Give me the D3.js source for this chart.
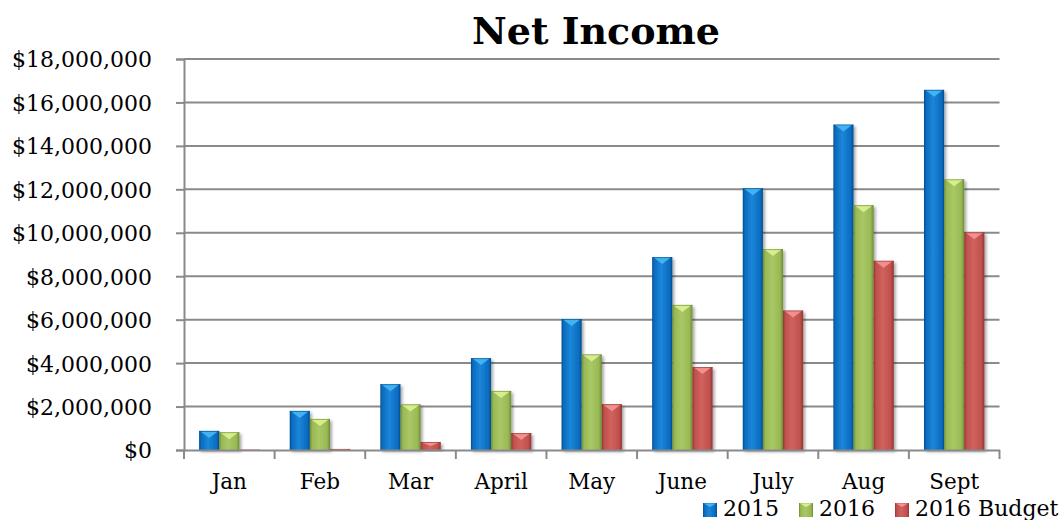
<!DOCTYPE html>
<html>
<head>
<meta charset="utf-8">
<script src="https://cdn.jsdelivr.net/npm/d3@7"></script>
<style>
  html, body { margin: 0; padding: 0; background: #fff; }
  svg { display: block; }
  text { font-family: "DejaVu Serif", serif; fill: #000; }
</style>
</head>
<body>
<svg id="chart" width="1063" height="520"></svg>
<script>
// Monthly net income, cumulative
const months = ["Jan", "Feb", "Mar", "April", "May", "June", "July", "Aug", "Sept"];
const seriesNames = ["2015", "2016", "2016 Budget"];
const income2015 = [880000, 1800000, 3030000, 4230000, 6030000, 8880000, 12050000, 14980000, 16580000];
const income2016 = [820000, 1430000, 2100000, 2720000, 4400000, 6680000, 9250000, 11270000, 12460000];
const budget2016 = [20000, 50000, 370000, 780000, 2110000, 3820000, 6420000, 8710000, 10020000];
const yTicks = [0, 2000000, 4000000, 6000000, 8000000, 10000000, 12000000, 14000000, 16000000, 18000000];

const seriesValues = [income2015, income2016, budget2016];
const palette = [
  { base: "#0a6dc2", dark: "#04508f", light: "#1c86d8", cap: "#45b5f2" },
  { base: "#98b954", dark: "#6f8c36", light: "#aac866", cap: "#d8f08e" },
  { base: "#c0504d", dark: "#933532", light: "#d0625e", cap: "#f39290" }
];

const svg = d3.select("#chart");
const x0 = 184, x1 = 999.5, yTop = 59, yBase = 450;

const x = d3.scaleBand().domain(months).range([x0, x1]).paddingInner(0).paddingOuter(0);
const xs = d3.scaleBand().domain(seriesNames).range([0, x.bandwidth()]).paddingInner(0).paddingOuter(0.75);
const y = d3.scaleLinear().domain([0, 18000000]).range([yBase, yTop]);

// gradients and shadow
const defs = svg.append("defs");
palette.forEach((p, i) => {
  const g = defs.append("linearGradient").attr("id", "bar" + i)
    .attr("x1", "0%").attr("x2", "100%").attr("y1", "0%").attr("y2", "0%");
  g.append("stop").attr("offset", "0%").attr("stop-color", p.dark);
  g.append("stop").attr("offset", "12%").attr("stop-color", p.base);
  g.append("stop").attr("offset", "45%").attr("stop-color", p.light);
  g.append("stop").attr("offset", "85%").attr("stop-color", p.base);
  g.append("stop").attr("offset", "100%").attr("stop-color", p.dark);
});
const f = defs.append("filter").attr("id", "shadow").attr("x", "-30%").attr("y", "-10%").attr("width", "170%").attr("height", "130%");
f.append("feGaussianBlur").attr("in", "SourceAlpha").attr("stdDeviation", 1.8).attr("result", "b");
f.append("feOffset").attr("in", "b").attr("dx", 2).attr("dy", 2).attr("result", "o");
f.append("feComponentTransfer").attr("in", "o").attr("result", "s")
  .append("feFuncA").attr("type", "linear").attr("slope", 0.35);
const fm = f.append("feMerge");
fm.append("feMergeNode").attr("in", "s");
fm.append("feMergeNode").attr("in", "SourceGraphic");

// gridlines
svg.append("g").selectAll("line").data(yTicks.slice(1)).join("line")
  .attr("x1", x0).attr("x2", x1)
  .attr("y1", d => y(d)).attr("y2", d => y(d))
  .attr("stroke", "#8a8a8a").attr("stroke-width", 2);

// y axis
const yAxis = svg.append("g").attr("transform", `translate(${x0},0)`)
  .call(d3.axisLeft(y).tickValues(yTicks).tickSize(8).tickPadding(24)
    .tickFormat(d => "$" + d3.format(",")(d)));
yAxis.select(".domain").attr("stroke", "#8a8a8a").attr("stroke-width", 2);
yAxis.selectAll(".tick line").attr("stroke", "#8a8a8a").attr("stroke-width", 2);
yAxis.selectAll(".tick text").attr("font-size", 22).attr("font-family", "DejaVu Serif").attr("dy", "0.36em");

// bars
const groups = svg.append("g").selectAll("g").data(months).join("g")
  .attr("transform", d => `translate(${x(d)},0)`);

groups.each(function (m, mi) {
  const g = d3.select(this);
  seriesNames.forEach((s, si) => {
    const v = seriesValues[si][mi];
    const bx = xs(s), bw = xs.bandwidth();
    const top = y(v), h = yBase - top;
    const bar = g.append("g").attr("filter", "url(#shadow)");
    bar.append("rect").attr("x", bx).attr("y", top).attr("width", bw).attr("height", Math.max(h, 0.8))
      .attr("fill", `url(#bar${si})`);
    if (h > 3) {
      const cap = Math.min(7, h * 0.5);
      bar.append("path")
        .attr("d", `M${bx + 1.5},${top + 0.5} L${bx + bw - 1.5},${top + 0.5} L${bx + bw / 2},${top + cap} Z`)
        .attr("fill", palette[si].cap).attr("opacity", 0.95);
      bar.append("rect").attr("x", bx).attr("y", top).attr("width", bw).attr("height", 1)
        .attr("fill", palette[si].dark).attr("opacity", 0.5);
    }
  });
});

// x axis
const xAxis = svg.append("g").attr("transform", `translate(0,${yBase})`)
  .call(d3.axisBottom(x).tickSize(0).tickPadding(24));
xAxis.select(".domain").attr("stroke", "#8a8a8a").attr("stroke-width", 2);
xAxis.selectAll(".tick text").attr("font-size", 21.5).attr("font-family", "DejaVu Serif");
// tick marks at category boundaries
xAxis.append("g").selectAll("line").data(months.map(m => x(m)).concat([x1])).join("line")
  .attr("x1", d => d).attr("x2", d => d).attr("y1", 0).attr("y2", 9)
  .attr("stroke", "#8a8a8a").attr("stroke-width", 2);

// title
svg.append("text").attr("x", 596).attr("y", 44).attr("text-anchor", "middle")
  .attr("font-size", 38).attr("font-weight", "bold").text("Net Income");

// legend
const legend = svg.append("g").attr("transform", "translate(703,0)");
let lx = 0;
seriesNames.forEach((s, i) => {
  const item = legend.append("g").attr("transform", `translate(${lx},0)`);
  item.append("rect").attr("x", 0).attr("y", 503).attr("width", 14).attr("height", 14)
    .attr("fill", `url(#bar${i})`);
  item.append("path").attr("d", "M1,503.5 L13,503.5 L7,507 Z").attr("fill", palette[i].cap);
  const t = item.append("text").attr("x", 20).attr("y", 516).attr("font-size", 22).text(s);
  lx += 20 + t.node().getComputedTextLength() + 20;
});
</script>
</body>
</html>
